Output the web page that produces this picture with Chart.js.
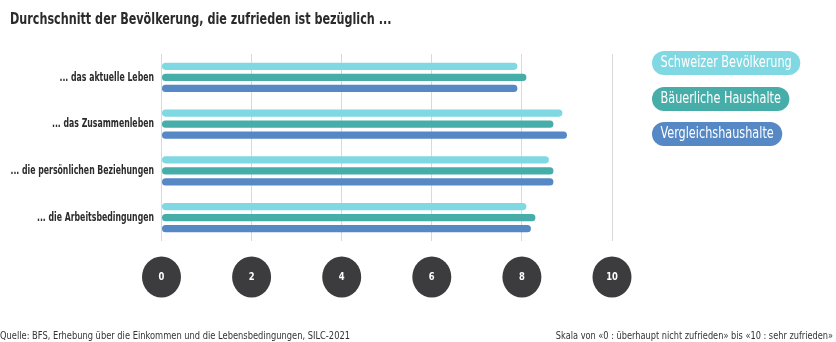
<!DOCTYPE html>
<html>
<head>
<meta charset="utf-8">
<script src="https://cdn.jsdelivr.net/npm/chart.js@4"></script>
<style>
  html, body { margin: 0; padding: 0; background: #fff; }
  #wrap { width: 836px; height: 342px; position: relative; }
</style>
</head>
<body>
<div id="wrap"><canvas id="chart" width="836" height="342"></canvas></div>
<script>
const FONT = '"DejaVu Sans Condensed", "Liberation Sans Narrow", Roboto, sans-serif';

// data
const categories = [
  '... das aktuelle Leben',
  '... das Zusammenleben',
  '... die persönlichen Beziehungen',
  '... die Arbeitsbedingungen',
];
const seriesNames = ['Schweizer Bevölkerung', 'Bäuerliche Haushalte', 'Vergleichshaushalte'];
const schweiz = [7.9, 8.9, 8.6, 8.1];
const baeuerlich = [8.1, 8.7, 8.7, 8.3];
const vergleich = [7.9, 9.0, 8.7, 8.2];
const xTicks = [0, 2, 4, 6, 8, 10];

const colors = ['#80d8e2', '#47ada9', '#5688c5'];
const titleText = 'Durchschnitt der Bevölkerung, die zufrieden ist bezüglich ...';
const sourceText = 'Quelle: BFS, Erhebung über die Einkommen und die Lebensbedingungen, SILC-2021';
const scaleText = 'Skala von «0 : überhaupt nicht zufrieden» bis «10 : sehr zufrieden»';

// text squeezed horizontally, the original uses a narrow font
const squeezed = (ctx, text, x, y, align, font, sx) => {
  ctx.save();
  ctx.font = font;
  ctx.textAlign = align;
  ctx.textBaseline = 'middle';
  ctx.translate(x, y);
  ctx.scale(sx, 1);
  ctx.fillText(text, 0, 0);
  ctx.restore();
};

const decor = {
  id: 'decor',
  afterDraw(chart) {
    const ctx = chart.ctx;
    const x = chart.scales.x;
    const y = chart.scales.y;
    ctx.save();

    ctx.fillStyle = '#2b2b2b';
    squeezed(ctx, titleText, 10, 20, 'left', 'bold 15px ' + FONT, 0.83);

    // category labels
    categories.forEach((c, i) => {
      ctx.fillStyle = '#2b2b2b';
      squeezed(ctx, c, 154, y.getPixelForValue(i), 'right', 'bold 12px ' + FONT, 0.72);
    });

    // tick circles
    xTicks.forEach((v) => {
      const px = x.getPixelForValue(v);
      ctx.beginPath();
      ctx.ellipse(px, 277, 19.5, 20.5, 0, 0, Math.PI * 2);
      ctx.fillStyle = '#3c3c3e';
      ctx.fill();
      ctx.fillStyle = '#ffffff';
      squeezed(ctx, String(v), px, 277, 'center', 'bold 11px ' + FONT, 0.85);
    });

    // pill legend
    const tops = [63, 99, 134];
    chart.data.datasets.forEach((ds, i) => {
      ctx.font = '15px ' + FONT;
      const w = ctx.measureText(ds.label).width * 0.835 + 17;
      const h = 24;
      const left = 652;
      const cy = tops[i];
      ctx.beginPath();
      ctx.roundRect(left, cy - h / 2, w, h, h / 2);
      ctx.fillStyle = ds.backgroundColor;
      ctx.fill();
      ctx.fillStyle = '#ffffff';
      squeezed(ctx, ds.label, left + 8.5, cy + 0.5, 'left', '15px ' + FONT, 0.835);
    });

    ctx.fillStyle = '#333333';
    squeezed(ctx, sourceText, 0, 336, 'left', '11px ' + FONT, 0.84);
    squeezed(ctx, scaleText, 833, 336, 'right', '11px ' + FONT, 0.83);

    ctx.restore();
  },
};

const makeSet = (i, data) => ({
  label: seriesNames[i],
  data: data,
  backgroundColor: colors[i],
  borderRadius: 4,
  borderSkipped: false,
  categoryPercentage: 0.707,
  barPercentage: 0.64,
});

new Chart(document.getElementById('chart'), {
  type: 'bar',
  data: {
    labels: categories,
    datasets: [makeSet(0, schweiz), makeSet(1, baeuerlich), makeSet(2, vergleich)],
  },
  options: {
    indexAxis: 'y',
    animation: false,
    responsive: false,
    layout: { padding: { top: 54, bottom: 101, left: 0, right: 224 } },
    scales: {
      x: {
        min: 0,
        max: 10,
        afterBuildTicks: (scale) => {
          scale.ticks = xTicks.map((v) => ({ value: v }));
        },
        grid: { color: '#d9d9d9', drawTicks: false, lineWidth: 1 },
        border: { display: false },
        ticks: { display: false },
      },
      y: {
        afterFit: (scale) => {
          scale.width = 161.5;
        },
        grid: { display: false, drawTicks: false },
        border: { display: false },
        ticks: { display: false },
      },
    },
    plugins: {
      legend: { display: false },
      tooltip: { enabled: false },
    },
  },
  plugins: [decor],
});
</script>
</body>
</html>
